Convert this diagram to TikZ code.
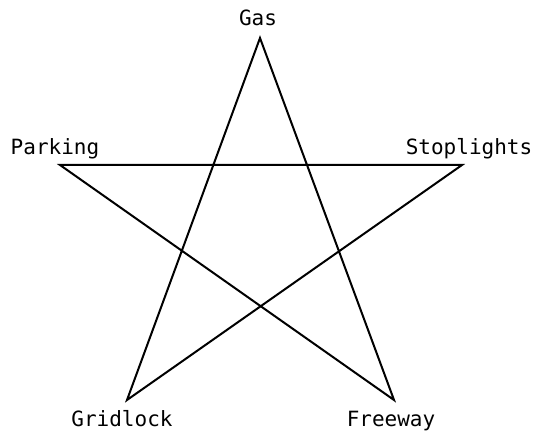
\documentclass[tikz,border=0pt]{standalone}
\usepackage{fontspec}
\setmonofont{DejaVu Sans Mono}
\begin{document}
\begin{tikzpicture}[x=1pt,y=-1pt,
  lbl/.style={font=\ttfamily\fontsize{21}{24}\selectfont, inner sep=0pt, anchor=base},
  edge/.style={line width=2pt, line join=miter}]
\useasboundingbox (0,0) rectangle (534,435);
\coordinate (gas) at (260,38);
\coordinate (park) at (60,165);
\coordinate (stop) at (462,165);
\coordinate (grid) at (127,400);
\coordinate (free) at (394,400);
\draw[edge] (gas) -- (free) -- (park) -- (stop) -- (grid) -- cycle;
\node[lbl] (tgas) at (258,26) {Gas};
\node[lbl] (tpark) at (55,155) {Parking};
\node[lbl] (tstop) at (469,155) {Stoplights};
\node[lbl] (tgrid) at (122,426) {Gridlock};
\node[lbl] (tfree) at (391,426) {Freeway};
\end{tikzpicture}
\end{document}
